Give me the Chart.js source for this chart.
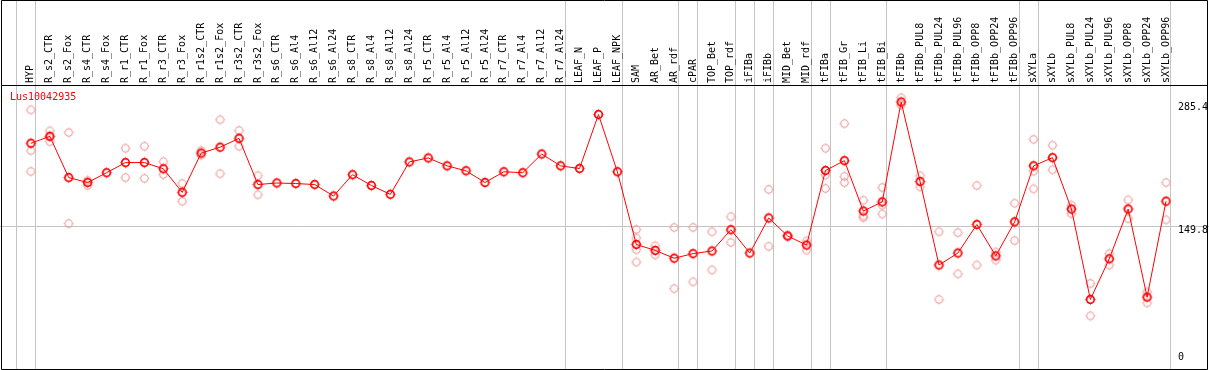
<!DOCTYPE html>
<html>
<head>
<meta charset="utf-8">
<title>Lus10042935</title>
<script src="https://cdn.jsdelivr.net/npm/chart.js@4.4.1/dist/chart.umd.min.js"></script>
<style>
  html, body { margin: 0; padding: 0; background: #fff; }
  canvas { display: block; }
</style>
</head>
<body>
<canvas id="chart" width="1209" height="370"></canvas>
<script>
; (function () {
    'use strict'

    // ── Data ───────────────────────────────────────────────────────────────────
    const geneName = 'Lus10042935'

    const categories = [
        'HYP', 'R_s2_CTR', 'R_s2_Fox', 'R_s4_CTR', 'R_s4_Fox', 'R_r1_CTR', 'R_r1_Fox',
        'R_r3_CTR', 'R_r3_Fox', 'R_r1s2_CTR', 'R_r1s2_Fox', 'R_r3s2_CTR', 'R_r3s2_Fox',
        'R_s6_CTR', 'R_s6_Al4', 'R_s6_Al12', 'R_s6_Al24', 'R_s8_CTR', 'R_s8_Al4',
        'R_s8_Al12', 'R_s8_Al24', 'R_r5_CTR', 'R_r5_Al4', 'R_r5_Al12', 'R_r5_Al24',
        'R_r7_CTR', 'R_r7_Al4', 'R_r7_Al12', 'R_r7_Al24', 'LEAF_N', 'LEAF_P', 'LEAF_NPK',
        'SAM', 'AR_Bet', 'AR_rdf', 'cPAR', 'TOP_Bet', 'TOP_rdf', 'iFIBa', 'iFIBb',
        'MID_Bet', 'MID_rdf', 'tFIBa', 'tFIB_Gr', 'tFIB_Li', 'tFIB_Bi', 'tFIBb',
        'tFIBb_PUL8', 'tFIBb_PUL24', 'tFIBb_PUL96', 'tFIBb_OPP8', 'tFIBb_OPP24', 'tFIBb_OPP96',
        'sXYLa', 'sXYLb', 'sXYLb_PUL8', 'sXYLb_PUL24', 'sXYLb_PUL96', 'sXYLb_OPP8',
        'sXYLb_OPP24', 'sXYLb_OPP96'
    ]

    const means = [
        240.1, 247.7, 202.4, 197.0, 207.8, 218.9, 218.9, 212.1, 186.2, 229.3, 235.8, 245.5, 194.8,
        196.5, 195.9, 194.8, 182.2, 205.6, 193.7, 184.0, 219.6, 224.0, 215.3, 209.9, 197.0,
        208.8, 207.8, 228.3, 215.3, 212.4, 271.7, 208.8,
        129.0, 122.5, 113.9, 118.9, 121.8, 145.2, 119.6, 158.1, 138.3, 128.3,
        210.2, 221.0, 165.7, 175.7, 285.4,
        198.1, 106.4, 119.6, 150.9, 116.4, 153.8,
        215.3, 224.3, 167.9, 68.6, 113.2, 167.9, 71.1, 176.5
    ]

    // individual replicate values per category (same order as categories)
    const replicates = [
        [276.8, 232.1, 209.2], [253.7, 241.9, 247.5], [252.0, 152.0], [199.5, 193.7], [],
        [234.7, 202.4], [236.9, 201.6], [220.0, 205.9], [195.9, 176.5], [232.1, 227.2],
        [266.0, 206.7], [254.2, 236.9], [204.5, 183.6],
        [], [], [], [], [], [], [], [], [], [], [], [], [], [], [], [], [], [], [],
        [145.5, 136.1, 123.2, 109.6], [127.5, 117.5], [147.7, 80.5], [147.7, 88.0],
        [143.0, 101.0], [159.5, 131.2], [], [189.4, 126.9], [139.0, 137.6], [132.9, 122.9],
        [234.7, 205.2, 190.5], [261.7, 203.8, 197.0], [177.6, 160.3, 158.5],
        [191.6, 172.2, 162.5], [290.1, 282.2],
        [204.5, 192.2], [143.0, 68.6], [142.0, 96.7], [193.7, 106.4], [120.7, 111.8], [174.3, 133.3],
        [244.4, 209.5, 190.1], [238.0, 211.0], [172.2, 162.8], [86.2, 50.6], [118.9, 106.4],
        [177.9, 157.4], [76.8, 64.9], [197.0, 156.0]
    ]

    const yTickLabels = [285.4, 149.8, 0]

    // category index after which a separator line is drawn
    const groupBreaks = [-1, 0, 28, 31, 34, 35, 37, 38, 39, 41, 42, 45, 52, 53, 60]

    // ── Markers ────────────────────────────────────────────────────────────────
    function marker(color, r, lw) {
        const c = document.createElement('canvas')
        c.width = 13; c.height = 13
        const g = c.getContext('2d')
        const m = 6.5
        g.strokeStyle = color
        g.lineWidth = lw
        g.beginPath(); g.arc(m, m, r, 0, Math.PI * 2); g.stroke()
        // faint ticks round the ring
        g.globalAlpha = 0.55
        g.lineWidth = 1
        const o = r + lw / 2
        g.beginPath()
        g.moveTo(m, m - o); g.lineTo(m, m - o - 1)
        g.moveTo(m, m + o); g.lineTo(m, m + o + 1)
        g.moveTo(m - o, m); g.lineTo(m - o - 1, m)
        g.moveTo(m + o, m); g.lineTo(m + o + 1, m)
        g.stroke()
        return c
    }
    const meanMark = marker('#ff0000', 3.8, 1.7)
    const repMark = marker('#f09898', 3.7, 1.1)

    // ── Points ─────────────────────────────────────────────────────────────────
    const meanPts = means.map((v, i) => ({ x: i, y: v }))
    const repPts = []
    replicates.forEach((list, i) => list.forEach(v => repPts.push({ x: i, y: v })))

    const FONT = '10px "DejaVu Sans Mono", "Liberation Mono", monospace'

    // ── Frame, grid and texts ──────────────────────────────────────────────────
    const decor = {
        id: 'decor',
        beforeDatasetsDraw(chart) {
            const { ctx, width, height } = chart
            const xs = chart.scales.x, ys = chart.scales.y
            ctx.save()
            ctx.strokeStyle = '#c4c4c4'
            ctx.lineWidth = 1
            groupBreaks.forEach(k => {
                const px = Math.floor(xs.getPixelForValue(k + 0.25)) + 0.5
                ctx.beginPath(); ctx.moveTo(px, 0); ctx.lineTo(px, height); ctx.stroke()
            })
            const hy = Math.round(ys.getPixelForValue(yTickLabels[1])) + 0.5
            ctx.beginPath(); ctx.moveTo(0, hy); ctx.lineTo(width, hy); ctx.stroke()
            ctx.restore()
        },
        afterDatasetsDraw(chart) {
            const { ctx, chartArea } = chart
            const xs = chart.scales.x, ys = chart.scales.y
            ctx.save()
            ctx.font = FONT

            // rotated category labels in the header
            ctx.fillStyle = '#000'
            ctx.textAlign = 'left'
            ctx.textBaseline = 'middle'
            categories.forEach((lab, i) => {
                ctx.save()
                ctx.translate(xs.getPixelForValue(i), 83)
                ctx.rotate(-Math.PI / 2)
                ctx.fillText(lab, 0, 0)
                ctx.restore()
            })

            // value labels on the right
            yTickLabels.forEach(t => {
                const py = ys.getPixelForValue(t)
                const ly = py + 5 > chartArea.bottom - 6 ? py - 5 : py + 5
                ctx.fillText(String(t), 1178, ly)
            })

            // gene name
            ctx.fillStyle = '#ff0000'
            ctx.fillText(geneName, 10, 97)

            // black frame
            ctx.strokeStyle = '#000'
            ctx.lineWidth = 1
            ctx.beginPath()
            ctx.moveTo(1.5, 0.5); ctx.lineTo(1207.5, 0.5); ctx.lineTo(1207.5, 369.5)
            ctx.lineTo(1.5, 369.5); ctx.closePath()
            ctx.moveTo(1.5, 85.5); ctx.lineTo(1207.5, 85.5)
            ctx.stroke()
            ctx.restore()
        }
    }

    // ── Chart ──────────────────────────────────────────────────────────────────
    new Chart(document.getElementById('chart'), {
        type: 'line',
        data: {
            datasets: [{
                data: meanPts,
                borderColor: '#ff0000',
                borderWidth: 1,
                tension: 0,
                pointStyle: meanMark,
                pointRadius: 5
            }, {
                type: 'scatter',
                data: repPts,
                showLine: false,
                pointStyle: repMark,
                pointRadius: 5
            }]
        },
        options: {
            responsive: false,
            animation: false,
            events: [],
            layout: { padding: { top: 86, left: 1, right: 38.25, bottom: 1 } },
            plugins: { legend: { display: false }, tooltip: { enabled: false } },
            scales: {
                x: { type: 'linear', display: false, min: -1.316, max: 60.25 },
                y: { type: 'linear', display: false, min: -2.27, max: 303.0 }
            }
        },
        plugins: [decor]
    })
})()
</script>
</body>
</html>
